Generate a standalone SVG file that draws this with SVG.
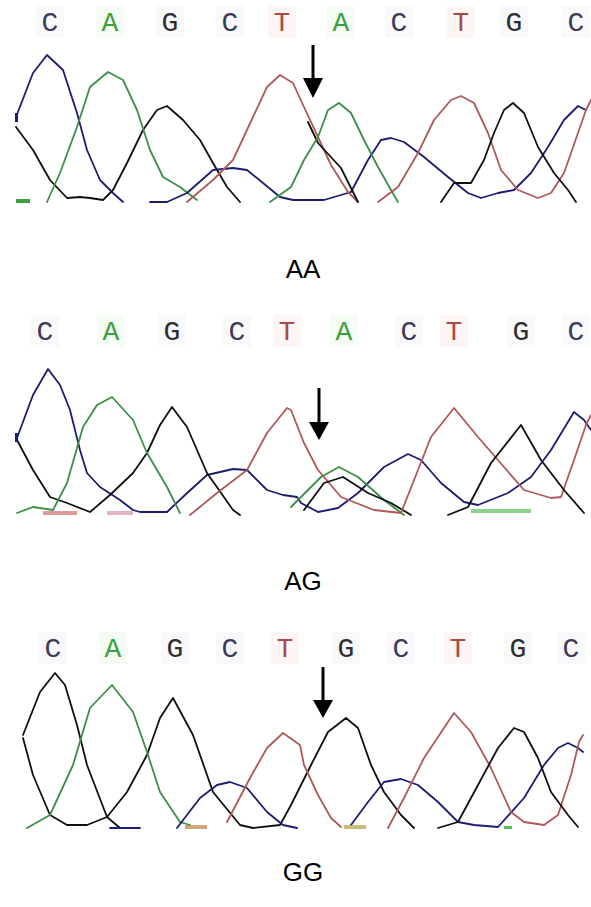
<svg xmlns="http://www.w3.org/2000/svg" width="591" height="907" viewBox="0 0 591 907">
<style>
.bg{fill:#ffffff}
.base{font-family:"Liberation Mono","DejaVu Sans Mono",monospace;font-size:28px;text-anchor:middle}
.bC{fill:#3c3c58}.bG{fill:#2e2e2e}.bA{fill:#3f9f3f}.bT{fill:#a84a4a}
.tr{fill:none;stroke-width:1.8;stroke-linejoin:round;stroke-linecap:round}
.C{stroke:#1c1c70}.G{stroke:#101010}.A{stroke:#3d8f45}.T{stroke:#b0585a}
.arr{stroke:#000;stroke-width:3}
.head{fill:#000}
.lbl{font-family:"Liberation Sans",Arial,sans-serif;font-size:26px;fill:#000;text-anchor:middle}
.tintT{fill:#fef5f5}.tintA{fill:#f4fcf4}.tintN{fill:#f9f9fb}
</style>
<rect class="bg" width="591" height="907"/>

<g id="panel-AA">
  <g class="tints">
    <rect class="tintN" x="36" y="6" width="28" height="32"/>
    <rect class="tintA" x="96" y="6" width="28" height="32"/>
    <rect class="tintN" x="156" y="6" width="28" height="32"/>
    <rect class="tintN" x="216" y="6" width="28" height="32"/>
    <rect class="tintT" x="268" y="6" width="28" height="32"/>
    <rect class="tintA" x="327" y="6" width="28" height="32"/>
    <rect class="tintN" x="385" y="6" width="28" height="32"/>
    <rect class="tintT" x="447" y="6" width="28" height="32"/>
    <rect class="tintN" x="500" y="6" width="28" height="32"/>
    <rect class="tintN" x="562" y="6" width="28" height="32"/>
  </g>
  <g class="base">
    <text class="bC" x="50" y="31">C</text>
    <text class="bA" x="110" y="31">A</text>
    <text class="bG" x="170" y="31">G</text>
    <text class="bC" x="230" y="31">C</text>
    <text class="bT" x="282" y="31">T</text>
    <text class="bA" x="341" y="31">A</text>
    <text class="bC" x="399" y="31">C</text>
    <text class="bT" x="461" y="31">T</text>
    <text class="bG" x="514" y="31">G</text>
    <text class="bC" x="576" y="31">C</text>
  </g>
  <g class="traces">
    <path class="tr C" d="M16,117 L33,73 L47,55 L63,70 L77,113 L87,150 L100,180 L113,193 L123,202"/>
    <path class="tr G" d="M16,127 L33,150 L50,180 L67,198 L80,197 L90,198 L103,200 L113,190 L127,163 L143,130 L157,110 L167,106 L183,120 L200,140 L213,163 L227,187 L240,202"/>
    <path class="tr A" d="M47,202 L60,173 L77,127 L90,87 L108,72 L123,80 L137,110 L150,150 L163,177 L180,187 L197,200"/>
    <path class="tr C" d="M150,202 L167,202 L187,193 L213,170 L233,168 L247,170 L263,183 L280,197 L293,200 L304,200 L324,200 L351,192 L368,160 L381,140 L391,138 L404,142 L424,157 L448,177 L468,193 L481,198 L498,193 L514,190 L531,173 L548,147 L564,120 L578,106 L586,110"/>
    <path class="tr T" d="M187,202 L213,180 L233,160 L253,117 L267,87 L280,75 L293,83 L304,107 L318,137 L331,165 L348,192 L358,202"/>
    <path class="tr G" d="M308,122 L318,143 L341,168 L358,202"/>
    <path class="tr A" d="M270,202 L291,187 L304,160 L318,137 L328,110 L339,103 L351,113 L364,140 L378,167 L391,190 L398,202"/>
    <path class="tr T" d="M378,202 L398,187 L418,153 L434,120 L451,100 L461,96 L474,103 L488,133 L501,170 L518,190 L538,198 L551,193 L564,173 L578,133 L586,110 L591,100"/>
    <path class="tr G" d="M441,202 L454,183 L471,183 L484,160 L494,133 L504,110 L513,103 L524,113 L538,147 L554,173 L568,190 L576,202"/>
    <rect x="16" y="199" width="14" height="4" fill="#3d9f3d"/>
    <rect x="15" y="113" width="3" height="9" fill="#1c1c70"/>
  </g>
  <g class="arrow">
    <line class="arr" x1="313" y1="45" x2="313" y2="80"/>
    <polygon class="head" points="303,78 323,78 313,98"/>
  </g>
  <text class="lbl" x="303" y="278">AA</text>
</g>

<g id="panel-AG">
  <g class="tints">
    <rect class="tintN" x="31" y="315" width="28" height="32"/>
    <rect class="tintA" x="97" y="315" width="28" height="32"/>
    <rect class="tintN" x="158" y="315" width="28" height="32"/>
    <rect class="tintN" x="223" y="315" width="28" height="32"/>
    <rect class="tintT" x="273" y="315" width="28" height="32"/>
    <rect class="tintA" x="330" y="315" width="28" height="32"/>
    <rect class="tintN" x="395" y="315" width="28" height="32"/>
    <rect class="tintT" x="440" y="315" width="28" height="32"/>
    <rect class="tintN" x="507" y="315" width="28" height="32"/>
    <rect class="tintN" x="562" y="315" width="28" height="32"/>
  </g>
  <g class="base">
    <text class="bC" x="45" y="340">C</text>
    <text class="bA" x="111" y="340">A</text>
    <text class="bG" x="172" y="340">G</text>
    <text class="bC" x="237" y="340">C</text>
    <text class="bT" x="287" y="340">T</text>
    <text class="bA" x="344" y="340">A</text>
    <text class="bC" x="409" y="340">C</text>
    <text class="bT" x="454" y="340">T</text>
    <text class="bG" x="521" y="340">G</text>
    <text class="bC" x="576" y="340">C</text>
  </g>
  <g class="traces">
    <path class="tr C" d="M17,438 L33,395 L48,369 L60,385 L70,410 L80,450 L87,473 L100,487 L120,500 L133,510 L140,512 L167,512 L185,495 L207,475 L233,469 L247,470 L267,490 L283,495 L297,497 L301,503 L318,512 L338,508 L358,493 L384,467 L408,454 L421,460 L441,483 L464,502 L478,505 L508,493 L531,477 L551,450 L574,412 L584,420 L591,430"/>
    <path class="tr G" d="M17,440 L33,470 L50,497 L67,503 L90,512 L110,495 L133,473 L147,453 L160,425 L172,407 L187,427 L207,473 L233,510 L240,515"/>
    <path class="tr A" d="M17,513 L33,507 L53,510 L67,483 L83,427 L97,405 L112,397 L133,420 L147,453 L167,487 L180,513"/>
    <path class="tr T" d="M190,515 L217,493 L247,470 L267,433 L287,408 L291,410 L304,443 L318,470 L341,497 L374,510 L401,513"/>
    <path class="tr A" d="M291,507 L321,477 L339,467 L358,477 L384,500 L404,515"/>
    <path class="tr G" d="M304,510 L324,483 L343,477 L368,493 L391,503 L411,515"/>
    <path class="tr T" d="M401,513 L418,470 L431,437 L454,408 L478,437 L504,467 L524,490 L551,498 L561,497 L574,460 L586,425 L591,415"/>
    <path class="tr G" d="M448,515 L468,507 L491,463 L521,425 L541,460 L564,490 L584,513"/>
    <rect x="43" y="511" width="34" height="4" fill="#d07070" opacity="0.7"/>
    <rect x="107" y="511" width="26" height="4" fill="#d080a0" opacity="0.6"/>
    <rect x="471" y="509" width="60" height="4" fill="#5cc05c" opacity="0.7"/>
    <rect x="15" y="433" width="3" height="9" fill="#1c1c70"/>
  </g>
  <g class="arrow">
    <line class="arr" x1="319" y1="388" x2="319" y2="424"/>
    <polygon class="head" points="309,422 329,422 319,440"/>
  </g>
  <text class="lbl" x="303" y="590">AG</text>
</g>

<g id="panel-GG">
  <g class="tints">
    <rect class="tintN" x="39" y="632" width="28" height="32"/>
    <rect class="tintA" x="99" y="632" width="28" height="32"/>
    <rect class="tintN" x="161" y="632" width="28" height="32"/>
    <rect class="tintN" x="216" y="632" width="28" height="32"/>
    <rect class="tintT" x="271" y="632" width="28" height="32"/>
    <rect class="tintN" x="332" y="632" width="28" height="32"/>
    <rect class="tintN" x="387" y="632" width="28" height="32"/>
    <rect class="tintT" x="444" y="632" width="28" height="32"/>
    <rect class="tintN" x="504" y="632" width="28" height="32"/>
    <rect class="tintN" x="557" y="632" width="28" height="32"/>
  </g>
  <g class="base">
    <text class="bC" x="53" y="657">C</text>
    <text class="bA" x="113" y="657">A</text>
    <text class="bG" x="175" y="657">G</text>
    <text class="bC" x="230" y="657">C</text>
    <text class="bT" x="285" y="657">T</text>
    <text class="bG" x="346" y="657">G</text>
    <text class="bC" x="401" y="657">C</text>
    <text class="bT" x="458" y="657">T</text>
    <text class="bG" x="518" y="657">G</text>
    <text class="bC" x="571" y="657">C</text>
  </g>
  <g class="traces">
    <path class="tr G" d="M23,735 L40,692 L55,673 L65,685 L77,725 L87,765 L107,817 L120,828"/>
    <path class="tr G" d="M23,738 L33,775 L50,815 L67,825 L87,825 L107,817 L127,792 L147,755 L160,718 L173,698 L193,735 L213,792 L240,825 L253,828 L280,825 L291,805 L311,765 L328,732 L346,718 L358,728 L371,765 L384,792 L401,815 L414,828"/>
    <path class="tr A" d="M27,828 L50,815 L73,765 L90,708 L112,685 L133,712 L147,752 L160,792 L180,822 L190,825"/>
    <path class="tr C" d="M110,828 L140,828 M177,828 L200,798 L217,785 L230,782 L247,788 L267,812 L283,825 L297,828"/>
    <path class="tr T" d="M227,822 L250,778 L267,748 L283,733 L300,745 L304,765 L318,795 L331,818 L341,827"/>
    <path class="tr C" d="M351,825 L368,802 L384,782 L401,779 L418,785 L438,802 L458,822 L474,825 L498,827 L524,798 L544,765 L558,748 L568,743 L578,748 L583,752"/>
    <path class="tr T" d="M388,828 L404,798 L424,758 L454,713 L471,732 L491,768 L511,812 L524,822 L544,825 L558,815 L571,775 L579,742 L583,735"/>
    <path class="tr G" d="M438,828 L458,822 L478,785 L498,748 L514,728 L524,732 L538,758 L551,792 L568,815 L578,827"/>
    <rect x="185" y="825" width="22" height="4" fill="#c08040" opacity="0.7"/>
    <rect x="344" y="825" width="22" height="4" fill="#b0a040" opacity="0.7"/>
    <rect x="504" y="826" width="8" height="3" fill="#5cc05c"/>
  </g>
  <g class="arrow">
    <line class="arr" x1="323" y1="667" x2="323" y2="702"/>
    <polygon class="head" points="313,700 333,700 323,718"/>
  </g>
  <text class="lbl" x="303" y="881">GG</text>
</g>
</svg>
